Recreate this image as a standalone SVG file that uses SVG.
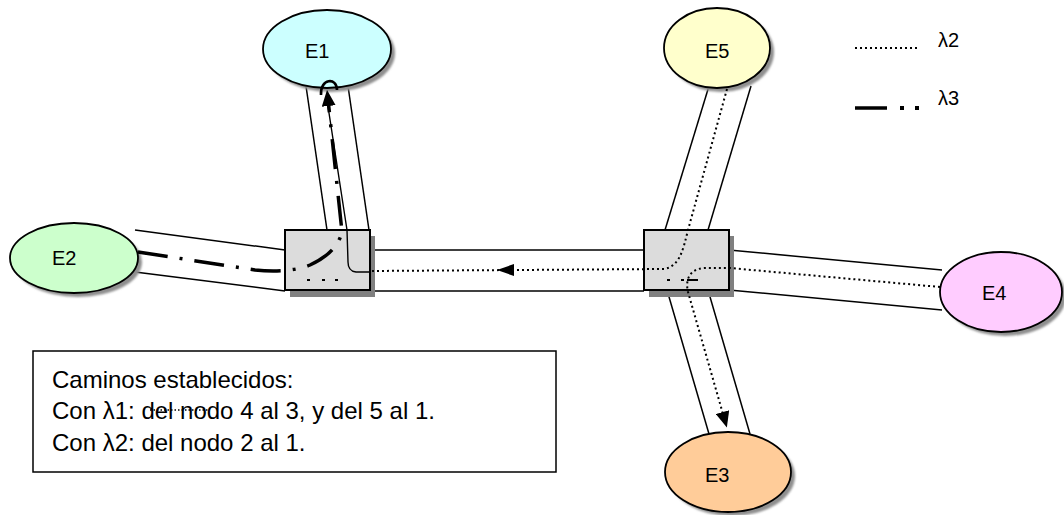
<svg xmlns="http://www.w3.org/2000/svg" width="1064" height="515" viewBox="0 0 1064 515">
  <style>
    .fiber { stroke: #000; stroke-width: 1.5; fill: none; }
    .lbl { font-family: "Liberation Sans", Arial, sans-serif; font-size: 20px; fill: #000; }
    .note { font-family: "Liberation Sans", Arial, sans-serif; font-size: 24px; fill: #000; }
    .node { stroke: #000; stroke-width: 1.8; }
    .shadow { fill: #8f8f8f; filter: url(#soft); }
    .sw { fill: #dcdcdc; stroke: #000; stroke-width: 2; }
    .swshadow { fill: #808080; }
    .l2 { stroke: #000; stroke-width: 2; fill: none; stroke-dasharray: 2 3; }
    .l3 { stroke: #000; stroke-width: 3.5; fill: none; stroke-dasharray: 30 12 3 12; }
    .thin { stroke: #000; stroke-width: 1.4; fill: none; }
  </style>
  <defs>
    <filter id="soft" x="-10%" y="-10%" width="120%" height="120%">
      <feGaussianBlur stdDeviation="1"/>
    </filter>
    <marker id="arrow" viewBox="0 0 16 14" refX="2" refY="7" markerWidth="16" markerHeight="14" markerUnits="userSpaceOnUse" orient="auto">
      <path d="M0,0 L16,7 L0,14 Z" fill="#000"/>
    </marker>
  </defs>

  <!-- fibre ducts (pairs of parallel lines) -->
  <g id="fibers">
    <line class="fiber" x1="306" y1="86" x2="327" y2="230"/>
    <line class="fiber" x1="348" y1="86" x2="369" y2="230"/>
    <line class="fiber" x1="709" y1="86" x2="665" y2="230"/>
    <line class="fiber" x1="751" y1="86" x2="708" y2="230"/>
    <line class="fiber" x1="667" y1="290" x2="709" y2="434"/>
    <line class="fiber" x1="708" y1="290" x2="750" y2="434"/>
    <line class="fiber" x1="135" y1="230" x2="285" y2="250"/>
    <line class="fiber" x1="135" y1="272" x2="285" y2="291"/>
    <line class="fiber" x1="370" y1="250" x2="644" y2="250"/>
    <line class="fiber" x1="370" y1="291" x2="644" y2="291"/>
    <line class="fiber" x1="729" y1="250" x2="942" y2="270"/>
    <line class="fiber" x1="729" y1="290" x2="942" y2="310"/>
  </g>

  <!-- end stations -->
  <g id="E1">
    <ellipse class="shadow" cx="331" cy="53" rx="64" ry="39"/>
    <ellipse class="node" cx="327" cy="49" rx="64" ry="39" fill="#ccffff"/>
    <text class="lbl" x="305" y="58">E1</text>
  </g>
  <g id="E5">
    <ellipse class="shadow" cx="721" cy="52" rx="53" ry="40"/>
    <ellipse class="node" cx="717" cy="48" rx="53" ry="40" fill="#ffffcc"/>
    <text class="lbl" x="705" y="58">E5</text>
  </g>
  <g id="E2">
    <ellipse class="shadow" cx="78" cy="262" rx="64" ry="35"/>
    <ellipse class="node" cx="74" cy="258" rx="64" ry="35" fill="#ccffcc"/>
    <text class="lbl" x="52" y="265">E2</text>
  </g>
  <g id="E3">
    <ellipse class="shadow" cx="732" cy="476" rx="63" ry="40"/>
    <ellipse class="node" cx="728" cy="472" rx="63" ry="40" fill="#ffcc99"/>
    <text class="lbl" x="705" y="482">E3</text>
  </g>
  <g id="E4">
    <ellipse class="shadow" cx="1005" cy="296" rx="61" ry="40"/>
    <ellipse class="node" cx="1001" cy="292" rx="61" ry="40" fill="#ffccff"/>
    <text class="lbl" x="982" y="300">E4</text>
  </g>

  <!-- optical switches -->
  <g id="switch-left">
    <rect class="swshadow" x="290" y="236" width="85" height="61"/>
    <rect class="sw" x="285" y="230" width="85" height="60"/>
  </g>
  <g id="switch-right">
    <rect class="swshadow" x="649" y="236" width="85" height="61"/>
    <rect class="sw" x="644" y="230" width="85" height="60"/>
  </g>

  <!-- lightpaths -->
  <g id="connectors">
    <!-- lambda 2: E5 towards E1 side -->
    <path class="l2" d="M727,89 L688,230 C683,250 680,266 664,269 L370,271"/>
    <path d="M497,270 L514,264 L514,276 Z" fill="#000"/>
    <!-- lambda 2: E4 to E3 -->
    <path class="l2" d="M940,287 L730,268 L704,268 C690,269 685,279 688,292 L723,414" marker-end="url(#arrow)"/>
    <!-- lambda 3: E2 to E1 -->
    <path class="l3" d="M138,252 L255,270 C275,272 296,271 310,265 C325,258 338,248 342,232 L328.5,104" marker-end="url(#arrow)"/>
    <!-- thin loop through the left switch -->
    <path class="thin" d="M370,272 L356,272 Q348,271 348,262 L347,230 L327,100"/>
    <path d="M321,95 C320,78 337,77 337,90" stroke="#000" stroke-width="2.6" fill="none"/>
    <!-- short marks inside the switches -->
    <path d="M307,280 h3 M322,280 h3 M335,280 h3" stroke="#000" stroke-width="2"/>
    <path d="M667,280 h3 M681,280 h3 M687,280 h11" stroke="#000" stroke-width="2"/>
  </g>

  <!-- legend -->
  <g id="legend">
    <line class="l2" x1="855" y1="48" x2="918" y2="48" stroke-width="1.6"/>
    <text class="lbl" x="938" y="47">λ2</text>
    <line x1="855" y1="108" x2="887" y2="108" stroke="#000" stroke-width="3.5"/>
    <rect x="900" y="106" width="4" height="4" fill="#000"/>
    <rect x="915" y="106" width="4" height="4" fill="#000"/>
    <text class="lbl" x="938" y="105">λ3</text>
  </g>

  <!-- note box -->
  <g id="note">
    <rect x="33" y="351" width="523" height="121" fill="#fff" stroke="#000" stroke-width="1.5"/>
    <text class="note" x="52" y="388">Caminos establecidos:</text>
    <text class="note" x="52" y="419">Con λ1: del nodo 4 al 3, y del 5 al 1.</text>
    <text class="note" x="52" y="451">Con λ2: del nodo 2 al 1.</text>
    <line x1="150" y1="410" x2="208" y2="410" stroke="#000" stroke-width="1.3" stroke-dasharray="1.5 2"/>
  </g>
</svg>
